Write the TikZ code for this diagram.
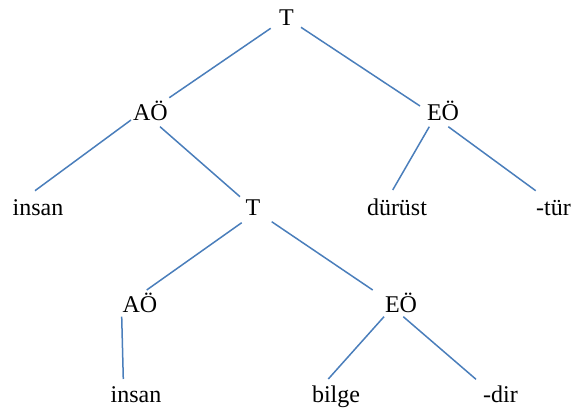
\documentclass[tikz,border=0pt]{standalone}
\usepackage{fontspec}
\setmainfont{Liberation Serif}
\usetikzlibrary{calc}
\definecolor{edgeblue}{HTML}{4A7EBB}
\begin{document}
\begin{tikzpicture}[x=1pt,y=-1pt,
  lbl/.style={inner sep=0pt,anchor=base,font=\fontsize{24}{28}\selectfont},
  edge/.style={draw=edgeblue,line width=1.5pt}]
\useasboundingbox (0,0) rectangle (574,415);
% labels of the tree, placed by their baselines
\node[lbl] (T1) at (286.5,26)  {T};
\node[lbl] (A1) at (150.5,120.5) {AÖ};
\node[lbl] (E1) at (443,120.5) {EÖ};
\node[lbl] (i1) at (38,215) {insan};
\node[lbl] (T2) at (253,215.5) {T};
\node[lbl] (d1) at (397,215) {dürüst};
\node[lbl] (t1) at (553.5,215) {-tür};
\node[lbl] (A2) at (140,312) {AÖ};
\node[lbl] (E2) at (401,312) {EÖ};
\node[lbl] (i2) at (136,402.5) {insan};
\node[lbl] (b1) at (336,402.5) {bilge};
\node[lbl] (r1) at (500.5,402.5) {-dir};
% branches
\draw[edge] ($(T1.base)+(-15.8,2.3)$) -- ($(A1.base)+(18.8,-22.8)$);
\draw[edge] ($(T1.base)+(14.5,1.3)$) -- ($(E1.base)+(-23,-14.5)$);
\draw[edge] ($(A1.base)+(-19.5,-0.5)$) -- ($(i1.base)+(-3,-24.3)$);
\draw[edge] ($(A1.base)+(9.5,6.2)$) -- ($(T2.base)+(-13,-18.8)$);
\draw[edge] ($(E1.base)+(-13.7,6.2)$) -- ($(d1.base)+(-4.3,-25)$);
\draw[edge] ($(E1.base)+(5.3,6.2)$) -- ($(t1.base)+(-17.8,-24.3)$);
\draw[edge] ($(T2.base)+(-11.3,7.2)$) -- ($(A2.base)+(6.7,-22)$);
\draw[edge] ($(T2.base)+(18.7,6.2)$) -- ($(E2.base)+(-28.3,-22)$);
\draw[edge] ($(A2.base)+(-18.3,4.7)$) -- ($(i2.base)+(-12.7,-23.5)$);
\draw[edge] ($(E2.base)+(-17,4.7)$) -- ($(b1.base)+(-7.7,-23.5)$);
\draw[edge] ($(E2.base)+(2.3,4.7)$) -- ($(r1.base)+(-24.5,-23.2)$);
\end{tikzpicture}
\end{document}
